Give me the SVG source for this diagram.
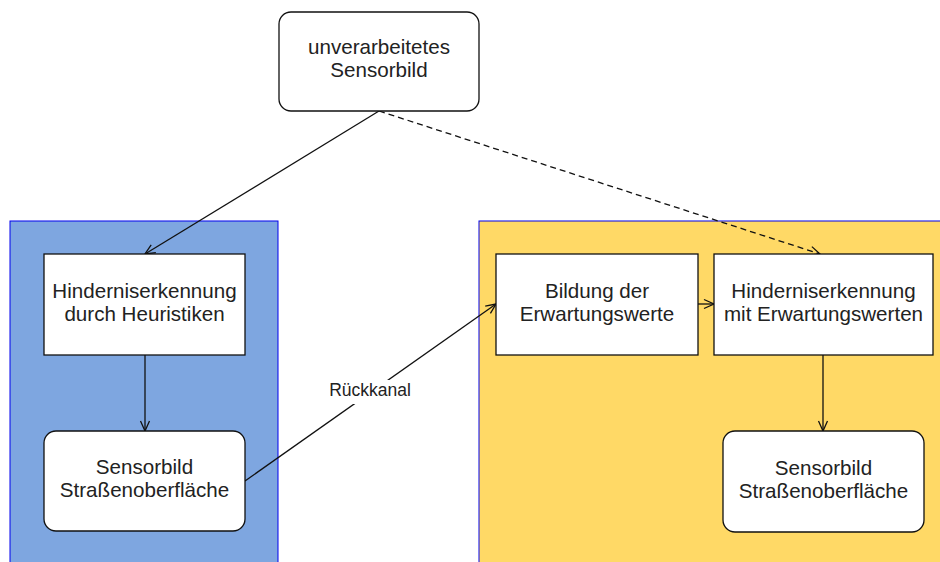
<svg xmlns="http://www.w3.org/2000/svg" width="940" height="562" viewBox="0 0 940 562">
<style>
.lbl{font-family:"Liberation Sans",Arial,sans-serif;font-size:20.6px;fill:#222;text-anchor:middle}
.box{fill:#fff;stroke:#111;stroke-width:1.3}
.edge{fill:none;stroke:#111;stroke-width:1.3}
</style>
<defs>
<marker id="open" viewBox="0 0 12 12" refX="11" refY="6" markerWidth="12" markerHeight="12" markerUnits="userSpaceOnUse" orient="auto">
<path d="M1,1.5 L11,6 L1,10.5" fill="none" stroke="#111" stroke-width="1.3"/>
</marker>
</defs>
<rect width="940" height="562" fill="#fff"/>
<g id="container-left"><rect x="10" y="221" width="268" height="360" fill="#7ea6e0" stroke="#0000ee" stroke-width="1"/></g>
<g id="container-right"><rect x="479" y="221" width="470" height="360" fill="#ffd966" stroke="#0000ee" stroke-width="1"/></g>
<g id="connectors">
<path class="edge" d="M379,111 L145,254" marker-end="url(#open)"/>
<path class="edge" d="M379,111 L820,254" stroke-dasharray="6,4" marker-end="url(#open)"/>
<path class="edge" d="M145,355 L145,431" marker-end="url(#open)"/>
<path class="edge" d="M245,481 L496,304" marker-end="url(#open)"/>
<path class="edge" d="M698,304 L714,304" marker-end="url(#open)"/>
<path class="edge" d="M823,355 L823,431" marker-end="url(#open)"/>
<rect x="324" y="380" width="92" height="24" fill="#fff"/>
<text x="370" y="396" font-family="'Liberation Sans',Arial,sans-serif" font-size="17.5" fill="#222" text-anchor="middle">Rückkanal</text>
</g>
<g id="n-top"><rect class="box" x="279" y="12" width="200" height="99" rx="12"/>
<text class="lbl" x="379" y="53.5">unverarbeitetes</text><text class="lbl" x="379" y="76.5">Sensorbild</text></g>
<g id="n-heur"><rect class="box" x="44" y="254" width="201" height="101"/>
<text class="lbl" x="144.5" y="298">Hinderniserkennung</text><text class="lbl" x="144.5" y="321">durch Heuristiken</text></g>
<g id="n-sb-left"><rect class="box" x="44" y="431" width="201" height="100" rx="12"/>
<text class="lbl" x="144.5" y="474">Sensorbild</text><text class="lbl" x="144.5" y="497">Straßenoberfläche</text></g>
<g id="n-bildung"><rect class="box" x="496" y="254" width="202" height="101"/>
<text class="lbl" x="597" y="298">Bildung der</text><text class="lbl" x="597" y="321">Erwartungswerte</text></g>
<g id="n-mit"><rect class="box" x="714" y="254" width="219" height="101"/>
<text class="lbl" x="823.5" y="298">Hinderniserkennung</text><text class="lbl" x="823.5" y="321">mit Erwartungswerten</text></g>
<g id="n-sb-right"><rect class="box" x="723" y="431" width="201" height="101" rx="12"/>
<text class="lbl" x="823.5" y="474.5">Sensorbild</text><text class="lbl" x="823.5" y="497.5">Straßenoberfläche</text></g>
</svg>
